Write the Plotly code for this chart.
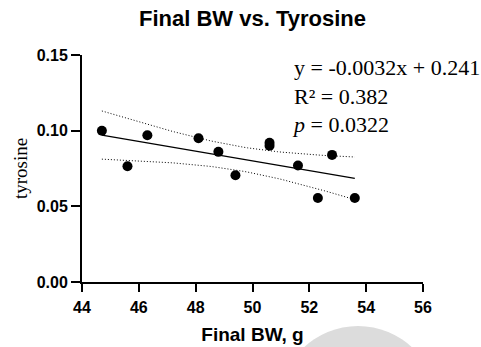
import numpy as np
import plotly.graph_objects as go

# Data
final_bw = [44.7, 45.6, 46.3, 48.1, 48.8, 49.4, 50.6, 50.6, 51.6, 52.3, 52.8, 53.6]
tyrosine = [0.100, 0.0765, 0.097, 0.095, 0.086, 0.0705, 0.092, 0.090, 0.077, 0.0555, 0.084, 0.0555]

x_ticks = [44, 46, 48, 50, 52, 54, 56]
y_ticks = [0.00, 0.05, 0.10, 0.15]
y_tick_labels = ["0.00", "0.05", "0.10", "0.15"]

eq_text = "y = -0.0032x + 0.241<br>R² = 0.382<br><i>p</i> = 0.0322"

# Linear regression with 95% confidence band
x = np.array(final_bw)
y = np.array(tyrosine)
n = len(x)
slope, intercept = np.polyfit(x, y, 1)
xs = np.linspace(x.min(), x.max(), 60)
yfit = slope * xs + intercept
resid = y - (slope * x + intercept)
s = np.sqrt(np.sum(resid ** 2) / (n - 2))
sxx = np.sum((x - x.mean()) ** 2)
tval = 2.228  # t(0.975, df=10)
se = s * np.sqrt(1 / n + (xs - x.mean()) ** 2 / sxx)
upper = yfit + tval * se
lower = yfit - tval * se

fig = go.Figure()
fig.add_trace(go.Scatter(x=xs, y=upper, mode="lines",
                         line=dict(color="black", width=1, dash="1px,2px"), hoverinfo="skip"))
fig.add_trace(go.Scatter(x=xs, y=lower, mode="lines",
                         line=dict(color="black", width=1, dash="1px,2px"), hoverinfo="skip"))
fig.add_trace(go.Scatter(x=xs, y=yfit, mode="lines",
                         line=dict(color="black", width=1.3), hoverinfo="skip"))
fig.add_trace(go.Scatter(x=final_bw, y=tyrosine, mode="markers",
                         marker=dict(color="black", size=10)))

axis_font = dict(family="Liberation Sans, Arial", size=16, color="black", weight="bold")

fig.update_layout(
    width=481, height=347,
    margin=dict(l=82, r=58, t=55, b=65, autoexpand=False),
    paper_bgcolor="white", plot_bgcolor="white",
    showlegend=False,
    title=dict(text="<b>Final BW vs. Tyrosine</b>", x=0.5, xref="paper", xanchor="center",
               y=1 - 18 / 347, yanchor="middle",
               font=dict(family="Liberation Sans, Arial", size=22, color="black")),
    xaxis=dict(range=[44, 56], tickvals=x_ticks, ticktext=[str(v) for v in x_ticks],
               showgrid=False, zeroline=False, showline=True, linecolor="black", linewidth=2,
               ticks="outside", ticklen=8, tickwidth=2, tickcolor="black",
               tickfont=axis_font, ticklabelstandoff=2, automargin=False,
               title=dict(text="<b>Final BW, g</b>", standoff=12,
                          font=dict(family="Liberation Sans, Arial", size=19, color="black"))),
    yaxis=dict(range=[0, 0.15], tickvals=y_ticks, ticktext=y_tick_labels,
               showgrid=False, zeroline=False, showline=True, linecolor="black", linewidth=2,
               ticks="outside", ticklen=9, tickwidth=2, tickcolor="black",
               tickfont=axis_font, automargin=False,
               title=dict(text="tyrosine", standoff=4,
                          font=dict(family="Liberation Serif, Times New Roman", size=19, color="black"))),
    annotations=[dict(text=eq_text, x=(290 - 82) / 341, y=(282 - 53) / 227, xref="paper", yref="paper",
                      xanchor="left", yanchor="top", align="left", showarrow=False,
                      font=dict(family="Liberation Serif, Times New Roman", size=22, color="black"))],
    shapes=[dict(type="circle", xref="paper", yref="paper", layer="below",
                 x0=(279 - 82) / 341, x1=(437 - 82) / 341,
                 y0=(282 - 484) / 227, y1=(282 - 326) / 227,
                 fillcolor="#dcdcdc", line=dict(width=0))],
)

fig.write_html("out.html")
